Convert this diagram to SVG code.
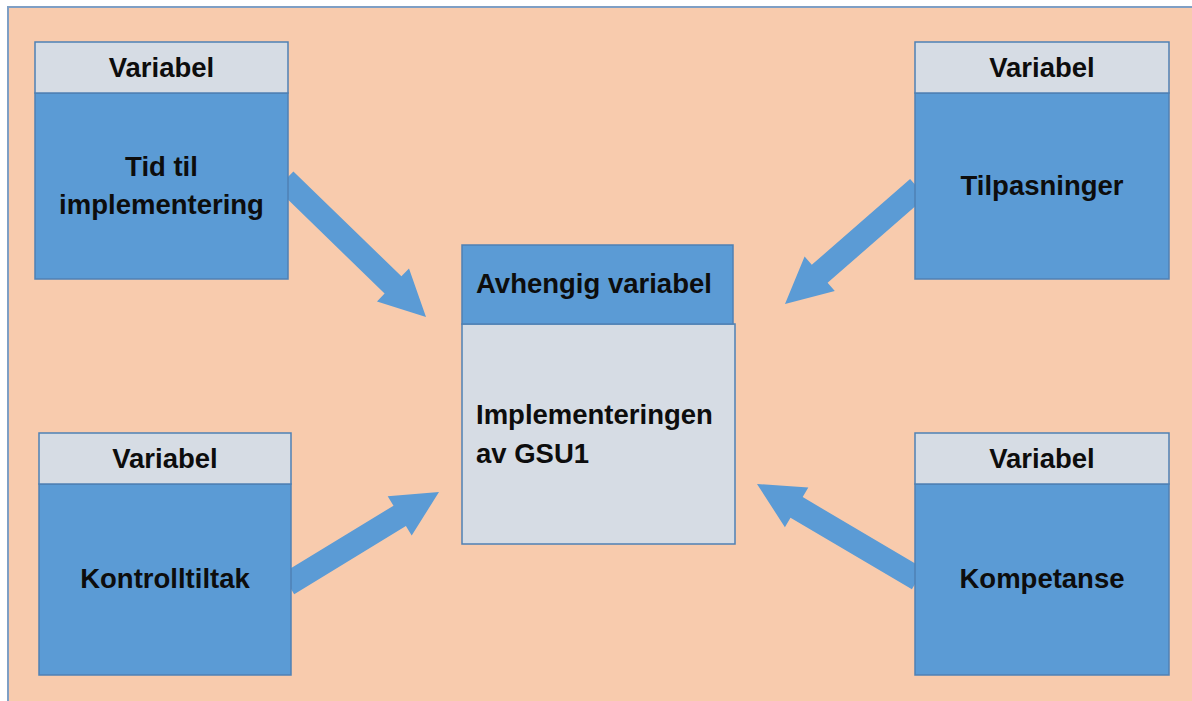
<svg xmlns="http://www.w3.org/2000/svg" width="1192" height="701" viewBox="0 0 1192 701">
  <style>
    .bg { fill: #F8CBAD; stroke: #7F9FC4; stroke-width: 2; }
    .hdr-light { fill: #D6DCE4; stroke: #4F81B4; stroke-width: 1.5; }
    .body-blue { fill: #5B9BD5; stroke: #4F81B4; stroke-width: 1.5; }
    .arrow { fill: #5B9BD5; stroke: none; }
    text { font-family: "Liberation Sans", Arial, sans-serif; font-weight: bold; font-size: 27.5px; fill: #0D0D0D; }
    .c { text-anchor: middle; }
  </style>
  <rect x="0" y="0" width="1192" height="701" fill="#FFFFFF"/>
  <rect class="bg" x="8" y="7" width="1200" height="710"/>

  <g id="connectors">
    <polygon class="arrow" points="276.6,188.6 384.6,293.5 377,301.4 426,317 409,268.4 401.4,276.3 293.4,171.4"/>
    <polygon class="arrow" points="910.1,179 811.8,264.8 804.6,256.5 785,304 834.8,291.1 827.6,282.8 925.9,197"/>
    <polygon class="arrow" points="294.2,594.2 405.9,526.1 411.7,535.5 439,492 387.7,496.3 393.5,505.7 281.8,573.8"/>
    <polygon class="arrow" points="924.1,568.7 802.7,497.1 808.3,487.6 757,484 784.9,527.2 790.5,517.7 911.9,589.3"/>
  </g>

  <g id="node-tid">
    <rect class="body-blue" x="35" y="93" width="253" height="186"/>
    <rect class="hdr-light" x="35" y="42" width="253" height="51"/>
    <text class="c" x="161.5" y="77">Variabel</text>
    <text class="c" x="161.5" y="176">Tid til</text>
    <text class="c" x="161.5" y="214">implementering</text>
  </g>

  <g id="node-tilpasninger">
    <rect class="body-blue" x="915" y="93" width="254" height="186"/>
    <rect class="hdr-light" x="915" y="42" width="254" height="51"/>
    <text class="c" x="1042" y="77">Variabel</text>
    <text class="c" x="1042" y="195">Tilpasninger</text>
  </g>

  <g id="node-kontrolltiltak">
    <rect class="body-blue" x="39" y="484" width="252" height="191"/>
    <rect class="hdr-light" x="39" y="433" width="252" height="51"/>
    <text class="c" x="165" y="468">Variabel</text>
    <text class="c" x="165" y="588">Kontrolltiltak</text>
  </g>

  <g id="node-kompetanse">
    <rect class="body-blue" x="915" y="484" width="254" height="191"/>
    <rect class="hdr-light" x="915" y="433" width="254" height="51"/>
    <text class="c" x="1042" y="468">Variabel</text>
    <text class="c" x="1042" y="588">Kompetanse</text>
  </g>

  <g id="node-implementeringen">
    <rect class="hdr-light" x="462" y="324" width="273" height="220"/>
    <rect class="body-blue" x="462" y="245" width="271" height="79"/>
    <text x="476" y="293">Avhengig variabel</text>
    <text x="476" y="424">Implementeringen</text>
    <text x="476" y="463">av GSU1</text>
  </g>
</svg>
